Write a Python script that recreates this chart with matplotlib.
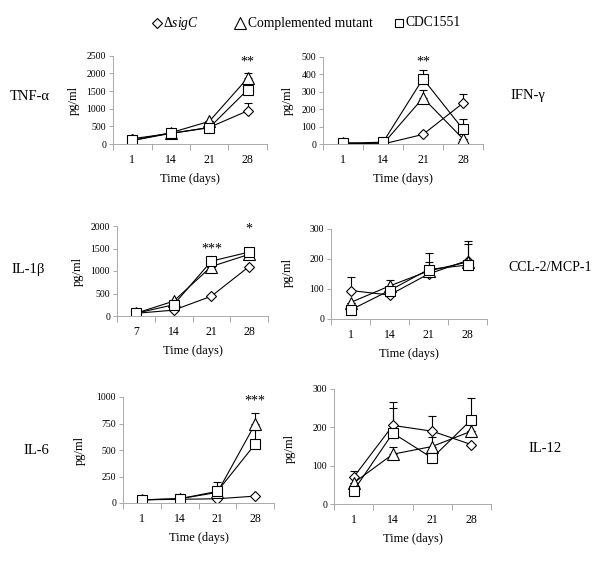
import matplotlib
matplotlib.use("Agg")
import matplotlib.pyplot as plt
from matplotlib.lines import Line2D
import numpy as np

plt.rcParams["font.family"] = ["Liberation Serif", "DejaVu Serif"]
plt.rcParams["mathtext.fontset"] = "custom"
plt.rcParams["mathtext.it"] = "Liberation Serif:italic"
plt.rcParams["mathtext.rm"] = "Liberation Serif"

# ---- data (pg/ml) ----
days_a = ["1", "14", "21", "28"]
days_b = ["7", "14", "21", "28"]

tnf_sigc = [150, 300, 470, 940]
tnf_comp = [100, 320, 640, 1870]
tnf_cdc = [100, 300, 460, 1540]
tnf_sigc_err = [0, 0, 0, 230]
tnf_comp_err = [130, 0, 0, 150]
tnf_cdc_err = [0, 0, 0, 140]

ifn_sigc = [5, 0, 55, 235]
ifn_comp = [5, 0, 265, 30]
ifn_cdc = [5, 10, 375, 85]
ifn_sigc_err = [0, 0, 0, 55]
ifn_comp_err = [15, 0, 45, 0]
ifn_cdc_err = [0, 0, 50, 60]

il1_sigc = [60, 130, 440, 1100]
il1_comp = [60, 330, 1100, 1370]
il1_cdc = [60, 250, 1220, 1420]

ccl_sigc = [95, 80, 150, 195]
ccl_comp = [55, 110, 160, 190]
ccl_cdc = [30, 95, 165, 180]
ccl_sigc_err = [45, 0, 0, 55]
ccl_comp_err = [0, 20, 30, 70]
ccl_cdc_err = [0, 0, 55, 0]

il6_sigc = [30, 35, 40, 65]
il6_comp = [30, 40, 100, 745]
il6_cdc = [30, 40, 110, 555]
il6_comp_err = [0, 0, 100, 105]
il6_cdc_err = [0, 0, 0, 130]

il12_sigc = [70, 205, 190, 155]
il12_comp = [55, 130, 150, 190]
il12_cdc = [35, 185, 120, 220]
il12_sigc_err = [15, 60, 40, 0]
il12_comp_err = [0, 20, 25, 0]
il12_cdc_err = [0, 65, 0, 57]

zero = [0, 0, 0, 0]

W, H = 600, 569
fig = plt.figure(figsize=(W / 100, H / 100), dpi=100)


def px_axes(x0, x1, ytop, ybot):
    return fig.add_axes([x0 / W, 1 - ybot / H, (x1 - x0) / W, (ybot - ytop) / H])


def panel(ax, cats, series, errs, ymax, ystep, stars):
    x = np.arange(len(cats))
    styles = [("D", 5.5), ("^", 8), ("s", 7)]
    for (m, ms), y, e in zip(styles, series, errs):
        ax.errorbar(x, y, yerr=[zero, e], color="black", lw=0.8,
                    marker=m, ms=ms, mfc="white", mec="black", mew=0.8,
                    capsize=3, elinewidth=0.8, capthick=0.8)
    ax.set_xlim(-0.5, len(cats) - 0.5)
    ax.set_ylim(0, ymax)
    ax.set_yticks(np.arange(0, ymax + 1, ystep))
    ax.set_xticks(np.arange(-0.5, len(cats), 1.0))
    ax.set_xticklabels([])
    ax.set_xticks(x, minor=True)
    ax.set_xticklabels(cats, minor=True)
    ax.tick_params(axis="x", which="minor", length=0, pad=7, labelsize=8.5)
    ax.tick_params(axis="x", which="major", length=4, color="#aaaaaa", width=0.7)
    ax.tick_params(axis="y", length=3, color="#aaaaaa", width=0.7,
                   labelsize=7, pad=2)
    for s in ["top", "right"]:
        ax.spines[s].set_visible(False)
    for s in ["left", "bottom"]:
        ax.spines[s].set_color("#aaaaaa")
        ax.spines[s].set_linewidth(0.7)
    for sx, sy, txt in stars:
        ax.text(sx, sy, txt, ha="center", va="center", fontsize=10)
    ax.set_xlabel("Time (days)", fontsize=9, labelpad=5)


# TNF-alpha
ax1 = px_axes(113, 267, 55.7, 144)
panel(ax1, days_a, [tnf_sigc, tnf_comp, tnf_cdc],
      [tnf_sigc_err, tnf_comp_err, tnf_cdc_err], 2500, 500, [(3, 2310, "**")])
# IFN-gamma
ax2 = px_axes(323, 483, 57, 144)
panel(ax2, days_a, [ifn_sigc, ifn_comp, ifn_cdc],
      [ifn_sigc_err, ifn_comp_err, ifn_cdc_err], 500, 100, [(2, 473, "**")])
# IL-1beta
ax3 = px_axes(117, 268, 226, 316)
panel(ax3, days_b, [il1_sigc, il1_comp, il1_cdc],
      [zero, zero, zero], 2000, 500, [(2, 1480, "***"), (3, 1926, "*")])
# CCL-2/MCP-1
ax4 = px_axes(331, 487, 229, 319)
panel(ax4, days_a, [ccl_sigc, ccl_comp, ccl_cdc],
      [ccl_sigc_err, ccl_comp_err, ccl_cdc_err], 300, 100, [])
# IL-6
ax5 = px_axes(123, 274, 397, 503)
panel(ax5, days_a, [il6_sigc, il6_comp, il6_cdc],
      [zero, il6_comp_err, il6_cdc_err], 1000, 250, [(3, 960, "***")])
# IL-12
ax6 = px_axes(334, 491, 389, 504)
panel(ax6, days_a, [il12_sigc, il12_comp, il12_cdc],
      [il12_sigc_err, il12_comp_err, il12_cdc_err], 300, 100, [])


def ftext(x, y, s, ha="center", **kw):
    fig.text(x / W, 1 - y / H, s, ha=ha, va="center", **kw)


# cytokine names
ftext(30, 96, "TNF-α", fontsize=10.5)
ftext(528, 96, "IFN-γ", fontsize=10.5)
ftext(28, 270, "IL-1β", fontsize=10.5)
ftext(550, 268, "CCL-2/MCP-1", fontsize=10)
ftext(36, 450, "IL-6", fontsize=10.5)
ftext(545, 449, "IL-12", fontsize=10.5)

# y labels
for xx, yy in [(74, 100), (288, 100), (78, 271), (288, 272), (80, 450), (290, 448)]:
    ftext(xx, yy, "pg/ml", fontsize=9, rotation=90)

# legend, drawn by hand
leg_y = 23
leg_items = [
    ("D", 5.5, 157, r"Δ$\it{sigC}$", 163),
    ("^", 8, 240, "Complemented mutant", 248),
    ("s", 6, 399, "CDC1551", 406),
]
for m, ms, mx, label, tx in leg_items:
    fig.add_artist(Line2D([mx / W], [1 - leg_y / H], transform=fig.transFigure,
                          ls="none", marker=m, ms=ms, mfc="white",
                          mec="black", mew=0.8))
    ftext(tx, leg_y, label, ha="left", fontsize=9.8)

plt.savefig("out.png", dpi=100)
